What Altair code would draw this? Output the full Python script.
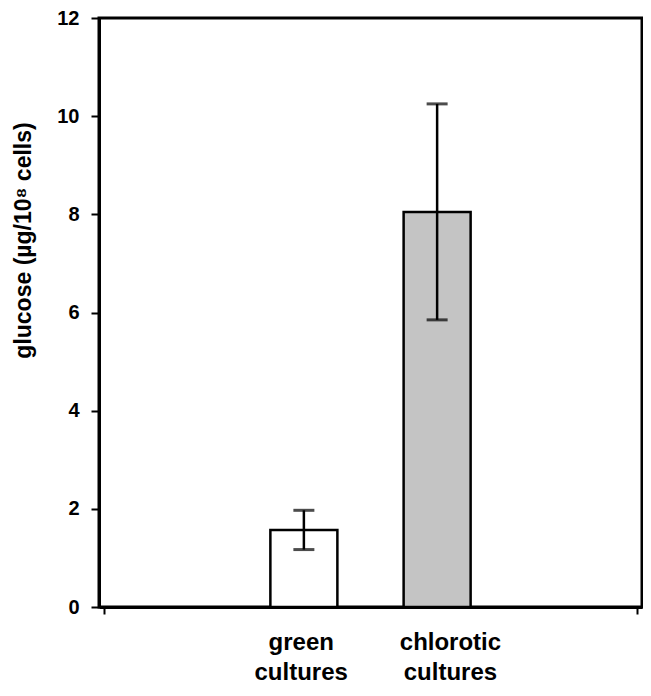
import altair as alt
import pandas as pd

# data
categories = ["green cultures", "chlorotic cultures"]
positions = [1.5, 2.5]
means = [1.57, 8.05]
errors = [0.40, 2.20]
fills = ["#ffffff", "#c4c4c4"]
label_lines = [["green", "cultures"], ["chlorotic", "cultures"]]
label_x = [1.48, 2.60]
y_ticks = [0, 2, 4, 6, 8, 10, 12]

df = pd.DataFrame({
    "cat": categories,
    "pos": positions,
    "mean": means,
    "err": errors,
    "fill": fills,
    "lx": label_x,
})
df["lo"] = df["mean"] - df["err"]
df["hi"] = df["mean"] + df["err"]
df["label"] = label_lines

FONT = "Liberation Sans"

xscale = alt.Scale(domain=[0, 4], nice=False, zero=False)
yscale = alt.Scale(domain=[0, 12], nice=False)

xaxis = alt.Axis(values=[0, 4], labels=False, title=None, grid=False,
                 domainColor="black", domainWidth=3, tickColor="black",
                 tickWidth=2, tickSize=7)
yaxis = alt.Axis(values=y_ticks, title="glucose (µg/10⁸ cells)", grid=False,
                 domainColor="black", domainWidth=3, tickColor="black",
                 tickWidth=2, tickSize=8, labelFont=FONT, labelFontSize=20,
                 labelFontWeight="bold", labelColor="black", labelPadding=12,
                 titleFont=FONT, titleFontSize=23, titleFontWeight="bold",
                 titleColor="black", titleAngle=270, titleX=-76, titleY=222,
                 titleAlign="center", titleBaseline="middle")

base = alt.Chart(df)

bars = base.mark_bar(size=67, stroke="black", strokeWidth=2.5).encode(
    x=alt.X("pos:Q", scale=xscale, axis=xaxis),
    y=alt.Y("mean:Q", scale=yscale, axis=yaxis),
    fill=alt.Fill("fill:N", scale=None, legend=None),
)

rules = base.mark_rule(color="black", strokeWidth=2.5).encode(
    x=alt.X("pos:Q", scale=xscale),
    y=alt.Y("lo:Q", scale=yscale),
    y2="hi:Q",
)

caps_hi = base.mark_tick(orient="horizontal", size=21, thickness=3, color="black").encode(
    x=alt.X("pos:Q", scale=xscale),
    y=alt.Y("hi:Q", scale=yscale),
)
caps_lo = base.mark_tick(orient="horizontal", size=21, thickness=3, color="black").encode(
    x=alt.X("pos:Q", scale=xscale),
    y=alt.Y("lo:Q", scale=yscale),
)

labels = base.mark_text(font=FONT, fontSize=24, fontWeight="bold", color="black",
                        align="center", baseline="alphabetic", lineHeight=30).encode(
    x=alt.X("lx:Q", scale=xscale),
    y=alt.value(632),
    text="label",
)

chart = alt.layer(bars, rules, caps_hi, caps_lo, labels).properties(
    width=543,
    height=589,
    autosize=alt.AutoSizeParams(type="none"),
    padding={"left": 91, "top": 10, "right": 1, "bottom": 78},
).configure_view(stroke="black", strokeWidth=3)

chart.save("out.html", embed_options={"renderer": "svg", "actions": False})
